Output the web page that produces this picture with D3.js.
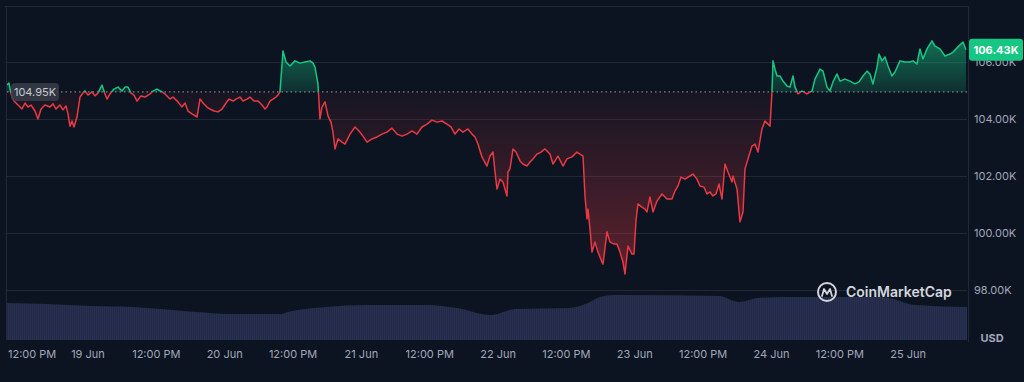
<!DOCTYPE html>
<html>
<head>
<meta charset="utf-8">
<script src="https://cdn.jsdelivr.net/npm/d3@7"></script>
<style>
  html, body { margin: 0; padding: 0; background: #0d1421; }
  svg { display: block; }
  text { font-family: Inter, "Noto Sans", sans-serif; }
</style>
</head>
<body>
<svg id="chart" width="1024" height="382"></svg>
<script>
// ---- DATA (hours since 18 Jun 2025 00:00 UTC, price in thousands USD) ----
const startDate = Date.UTC(2025, 5, 18);
const priceHours = [9.78,10.13,10.48,11.01,11.71,12.41,12.94,13.47,13.99,14.69,15.22,15.75,16.45,17.33,17.86,18.38,19.08,19.61,20.14,20.49,20.84,21.19,21.54,22.07,22.60,23.12,23.47,24.00,24.70,25.23,25.76,26.11,26.46,26.98,27.34,27.86,28.56,29.27,29.97,30.50,31.02,31.55,32.08,32.60,33.30,34.01,34.89,35.41,36.11,36.99,37.52,38.40,38.92,39.80,40.50,41.03,41.56,42.26,43.14,43.66,44.19,44.89,45.42,46.12,46.82,47.53,48.23,48.76,49.46,49.98,50.69,51.21,51.91,52.44,53.14,53.85,54.55,55.08,55.43,55.95,56.48,57.01,57.36,57.71,58.24,58.76,59.47,60.34,61.22,62.10,62.98,63.50,63.85,64.38,64.73,65.08,65.61,66.14,66.66,67.01,67.37,67.89,68.60,69.12,70.00,70.88,71.58,72.28,72.99,73.86,74.74,75.62,76.49,77.37,78.25,79.13,80.01,80.88,81.76,82.64,83.52,84.39,85.27,86.15,87.03,87.73,88.43,89.14,89.84,90.72,91.42,91.95,92.47,93.17,94.05,94.58,95.11,95.46,95.81,96.34,96.86,97.56,97.74,98.09,98.62,99.15,99.85,100.37,101.08,101.60,102.13,102.83,103.53,104.24,105.11,105.64,106.52,107.39,108.10,108.98,109.85,110.38,110.91,111.26,111.61,111.79,112.14,112.49,113.01,113.54,114.24,114.42,115.12,115.65,116.35,116.88,117.40,117.93,118.28,118.81,119.51,119.86,120.21,120.56,121.27,121.79,122.14,122.67,123.20,123.90,124.78,125.65,126.53,127.06,127.59,128.11,128.81,129.69,130.22,130.92,131.45,132.15,132.68,133.20,133.73,134.26,134.78,135.31,135.84,136.36,137.07,137.24,137.95,138.47,139.00,139.35,139.88,140.58,141.10,141.63,142.33,142.86,143.39,143.74,144.09,144.27,144.62,144.97,145.49,146.02,146.72,147.25,147.78,148.13,148.65,149.36,150.23,151.11,151.64,152.52,153.05,153.75,154.27,154.80,155.50,156.03,156.90,157.78,158.66,159.36,160.07,160.77,161.30,161.82,162.53,162.88,163.40,163.93,164.46,165.16,165.69,166.56,167.44,168.32,168.85,169.55,170.07,170.60,171.30,172.18,172.71,173.59,174.46,175.34,175.87,176.75,177.63,178.15];
const priceValues = [105.19,105.26,104.88,104.63,104.49,104.35,104.56,104.42,104.49,104.28,104.00,104.35,104.49,104.42,104.53,104.35,104.49,104.32,104.46,104.18,103.75,103.93,103.72,104.07,104.77,104.91,104.98,104.84,104.95,104.81,104.91,105.05,105.19,104.88,104.70,104.88,105.05,105.12,104.98,105.12,105.12,104.91,104.84,104.63,104.81,104.77,104.88,104.98,105.05,104.95,104.88,104.70,104.77,104.60,104.42,104.56,104.28,104.18,104.07,104.70,104.56,104.42,104.35,104.28,104.25,104.35,104.56,104.70,104.63,104.70,104.77,104.63,104.70,104.77,104.63,104.63,104.49,104.35,104.42,104.63,104.70,104.77,104.84,104.95,106.39,106.00,105.86,106.04,105.96,106.00,106.04,105.96,105.82,105.23,104.00,104.42,104.60,104.11,103.89,103.54,102.95,103.30,103.19,103.12,103.47,103.72,103.58,103.40,103.19,103.30,103.37,103.47,103.54,103.68,103.47,103.40,103.47,103.58,103.47,103.72,103.82,103.96,103.89,103.93,103.82,103.72,103.47,103.65,103.54,103.65,103.47,103.37,103.12,102.67,102.35,102.70,102.84,102.14,101.54,101.89,101.79,101.30,102.14,102.25,102.95,102.84,102.53,102.42,102.35,102.49,102.60,102.77,102.84,102.95,102.77,102.42,102.70,102.35,102.60,102.67,102.84,102.77,102.70,101.30,100.49,100.84,100.14,99.33,99.68,99.33,98.98,98.91,100.04,99.68,99.61,99.61,99.33,98.98,98.56,99.54,99.26,99.26,100.42,101.02,100.91,100.84,100.74,101.26,100.74,101.12,101.37,101.19,101.19,101.47,101.65,101.96,101.89,102.00,102.07,101.89,101.65,101.61,101.37,101.44,101.30,101.37,101.72,101.19,102.42,102.14,101.79,102.00,101.54,100.39,100.74,102.25,102.60,103.05,103.12,102.84,103.65,103.93,103.82,103.75,104.95,106.04,105.75,105.51,105.51,105.33,105.16,105.12,105.51,105.12,104.88,104.98,104.88,104.98,105.40,105.75,105.68,105.12,104.98,105.30,105.58,105.33,105.40,105.33,105.23,105.30,105.51,105.68,105.58,105.23,105.82,106.28,106.04,106.18,105.86,105.51,105.65,106.04,106.00,106.00,106.04,105.93,106.46,106.11,106.46,106.74,106.56,106.46,106.21,106.28,106.35,106.53,106.70,106.43];
const volumeHours = [9.78,16.63,24.35,31.55,42.96,48.76,57.88,59.11,65.96,72.81,83.17,88.79,94.58,99.15,108.45,111.79,113.89,116.35,134.78,138.30,141.63,146.20,163.40,169.20,178.33];
const volumeValues = [46.3,45.0,42.5,41.3,35.0,32.5,32.5,35.0,41.3,43.8,43.8,40.0,31.3,38.8,40.0,46.3,53.8,56.3,55.0,47.5,52.5,53.8,53.8,43.8,41.3]; // $B
const yTickValues = [98, 100, 102, 104, 106];
const baselinePrice = 104.95;
const lastPrice = 106.43;
const domainHours = [9.78, 178.33];

// ---- LAYOUT ----
const pL = 7, pR = 967, pT = 6, pB = 340;
const toDate = h => new Date(startDate + h * 3600e3);
const prices = priceHours.map((h, i) => ({ t: toDate(h), v: priceValues[i] }));
const volumes = volumeHours.map((h, i) => ({ t: toDate(h), v: volumeValues[i] }));

const svg = d3.select("#chart");
const x = d3.scaleUtc().domain(domainHours.map(toDate)).range([pL, pR]);
const y = d3.scaleLinear().domain([98, 106]).range([290, 62]);
const yv = d3.scaleLinear().domain([0, 100]).range([pB, pB - 80]);
const baseY = y(baselinePrice);

const defs = svg.append("defs");
const gG = defs.append("linearGradient").attr("id", "gGreen").attr("gradientUnits", "userSpaceOnUse")
  .attr("x1", 0).attr("x2", 0).attr("y1", y(d3.max(priceValues))).attr("y2", baseY);
gG.append("stop").attr("offset", 0).attr("stop-color", "#16c784").attr("stop-opacity", 0.5);
gG.append("stop").attr("offset", 1).attr("stop-color", "#16c784").attr("stop-opacity", 0.15);
const gR = defs.append("linearGradient").attr("id", "gRed").attr("gradientUnits", "userSpaceOnUse")
  .attr("x1", 0).attr("x2", 0).attr("y1", baseY).attr("y2", y(d3.min(priceValues)));
gR.append("stop").attr("offset", 0).attr("stop-color", "#ea3943").attr("stop-opacity", 0.04);
gR.append("stop").attr("offset", 1).attr("stop-color", "#ea3943").attr("stop-opacity", 0.36);
defs.append("clipPath").attr("id", "clipUp").append("rect")
  .attr("x", pL).attr("y", 0).attr("width", pR - pL).attr("height", baseY);
defs.append("clipPath").attr("id", "clipDown").append("rect")
  .attr("x", pL).attr("y", baseY).attr("width", pR - pL).attr("height", pB - baseY);
const pat = defs.append("pattern").attr("id", "volPat").attr("patternUnits", "userSpaceOnUse")
  .attr("width", 2).attr("height", 10);
pat.append("rect").attr("width", 2).attr("height", 10).attr("fill", "#283050");
pat.append("rect").attr("x", 1.5).attr("width", 0.5).attr("height", 10).attr("fill", "#1e243f");

// frame
svg.append("line").attr("x1", 4).attr("x2", 968).attr("y1", pT + 0.5).attr("y2", pT + 0.5).attr("stroke", "#222836");
svg.append("line").attr("x1", 6.5).attr("x2", 6.5).attr("y1", pT).attr("y2", pB).attr("stroke", "#222836");
svg.append("line").attr("x1", 968.5).attr("x2", 968.5).attr("y1", pT).attr("y2", 342).attr("stroke", "#222836");

// grid + y labels
svg.append("g").selectAll("line").data(yTickValues).join("line")
  .attr("x1", pL).attr("x2", pR).attr("y1", d => Math.round(y(d)) + 0.5).attr("y2", d => Math.round(y(d)) + 0.5)
  .attr("stroke", "#222836");
svg.append("g").selectAll("text").data(yTickValues).join("text")
  .attr("x", 974).attr("y", d => y(d)).attr("dy", "0.35em")
  .attr("fill", "#a1a7bb").attr("font-size", 11).text(d => d3.format(".2f")(d) + "K");

// volume
svg.append("path").datum(volumes)
  .attr("d", d3.area().x(d => x(d.t)).y0(pB).y1(d => yv(d.v)).curve(d3.curveMonotoneX))
  .attr("fill", "url(#volPat)");

// watermark
const wm = svg.append("g").attr("transform", "translate(827,292)");
wm.append("circle").attr("r", 9).attr("fill", "none").attr("stroke", "#d3d6de").attr("stroke-width", 2);
wm.append("path").attr("d", "M-5,4 L-3,-3 L0,2 L3,-3 L5,4").attr("fill", "none")
  .attr("stroke", "#d3d6de").attr("stroke-width", 1.8).attr("stroke-linejoin", "round").attr("stroke-linecap", "round");
svg.append("text").attr("x", 846).attr("y", 297).attr("fill", "#d3d6de").attr("font-size", 14)
  .attr("font-weight", 600).text("CoinMarketCap");

// areas
const area = d3.area().x(d => x(d.t)).y0(baseY).y1(d => y(d.v));
const line = d3.line().x(d => x(d.t)).y(d => y(d.v));
svg.append("path").datum(prices).attr("d", area).attr("fill", "url(#gGreen)").attr("clip-path", "url(#clipUp)");
svg.append("path").datum(prices).attr("d", area).attr("fill", "url(#gRed)").attr("clip-path", "url(#clipDown)");

// baseline dotted
svg.append("line").attr("x1", pL).attr("x2", pR).attr("y1", baseY).attr("y2", baseY)
  .attr("stroke", "#9aa0ad").attr("stroke-width", 1).attr("stroke-dasharray", "1.5,3");

// lines
svg.append("path").datum(prices).attr("d", line).attr("fill", "none").attr("stroke", "#16c784")
  .attr("stroke-width", 1.5).attr("stroke-linejoin", "round").attr("clip-path", "url(#clipUp)");
svg.append("path").datum(prices).attr("d", line).attr("fill", "none").attr("stroke", "#ea3943")
  .attr("stroke-width", 1.5).attr("stroke-linejoin", "round").attr("clip-path", "url(#clipDown)");

// baseline label
svg.append("rect").attr("x", 11).attr("y", baseY - 9).attr("width", 48).attr("height", 18).attr("rx", 4)
  .attr("fill", "#3a3f4b").attr("fill-opacity", 0.8);
svg.append("text").attr("x", 35).attr("y", baseY).attr("dy", "0.35em").attr("text-anchor", "middle")
  .attr("fill", "#c6cad2").attr("font-size", 11).text(d3.format(".2f")(baselinePrice) + "K");

// last price badge
const ly = y(lastPrice);
svg.append("rect").attr("x", 969).attr("y", ly - 11).attr("width", 54).attr("height", 22).attr("rx", 3).attr("fill", "#16c784");
svg.append("text").attr("x", 996).attr("y", ly).attr("dy", "0.35em").attr("text-anchor", "middle")
  .attr("fill", "#ffffff").attr("font-size", 11).attr("font-weight", 700).text(d3.format(".2f")(lastPrice) + "K");

// USD
svg.append("text").attr("x", 992).attr("y", 338).attr("dy", "0.35em").attr("text-anchor", "middle")
  .attr("fill", "#a1a7bb").attr("font-size", 11).attr("font-weight", 700).text("USD");

// x axis
const ticks = x.ticks(d3.utcHour.every(12));
const fmt = d => d.getUTCHours() === 12 ? "12:00 PM" : d3.utcFormat("%-d %b")(d);
const xl = svg.append("g").selectAll("text").data(ticks).join("text")
  .attr("y", 354).attr("dy", "0.35em").attr("fill", "#a1a7bb").attr("font-size", 11)
  .attr("text-anchor", "middle").attr("x", d => x(d)).text(fmt);
xl.each(function () {
  const bb = this.getBBox();
  if (bb.x < 8) d3.select(this).attr("text-anchor", "start").attr("x", 8);
});
</script>
</body>
</html>
